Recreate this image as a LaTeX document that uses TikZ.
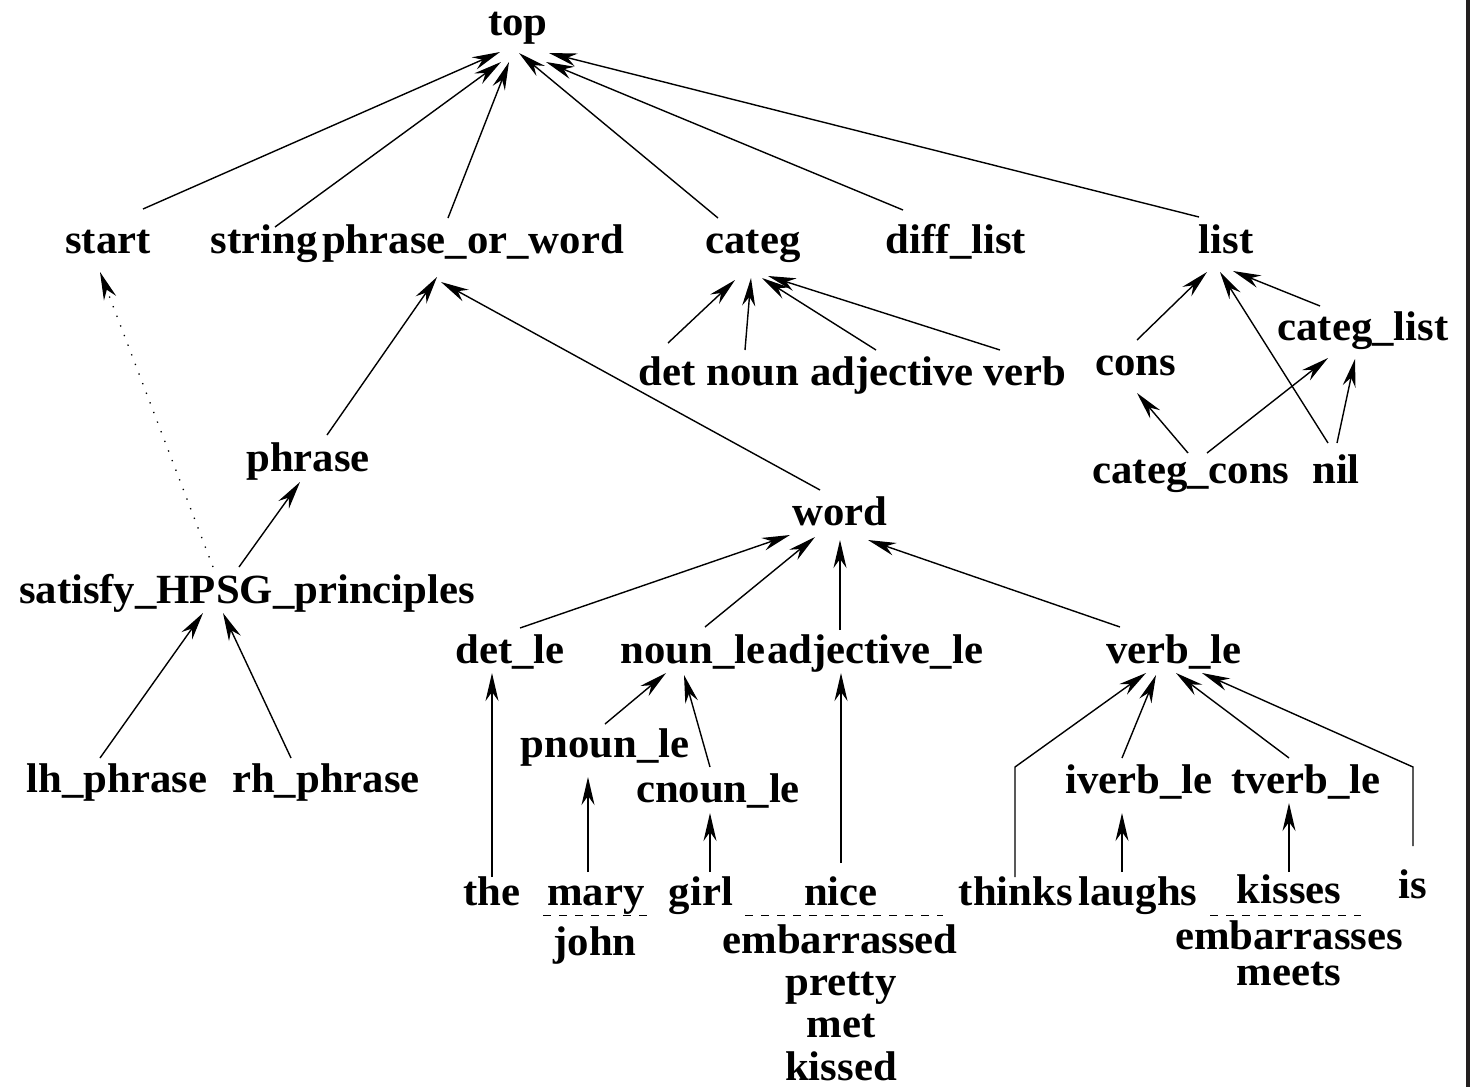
\documentclass[tikz,border=0pt]{standalone}
\usepackage{fontspec}
\newfontfamily\lblfont{Liberation Serif}[FakeStretch=1.03]
\usetikzlibrary{arrows.meta}
\begin{document}
\begin{tikzpicture}[x=1pt,y=-1pt,
  lbl/.style={anchor=base,inner sep=0pt,font=\lblfont\bfseries\fontsize{41.5}{44}\selectfont},
  arr/.style={-{Stealth[length=28pt,width=13pt,inset=9pt]},line width=1.4pt},
  dotarr/.style={-{Stealth[length=28pt,width=13pt,inset=9pt]},line width=1.3pt,dash pattern=on 1.3pt off 9pt},
  alt/.style={dash pattern=on 8pt off 8pt,line width=1pt}]
\useasboundingbox (0,0) rectangle (1475,1087);
\fill[white] (0,0) rectangle (1475,1087);
\draw[line width=4pt,color={rgb,255:red,35;green,31;blue,32}] (1468,0) -- (1468,1087);

% type nodes
\node[lbl] (top) at (518,35) {top};
\node[lbl] (start) at (108,253) {start};
\node[lbl] (string) at (264,253) {string};
\node[lbl] (pow) at (473,253) {phrase\_or\_word};
\node[lbl] (categ) at (753,253) {categ};
\node[lbl] (difflist) at (956,253) {diff\_list};
\node[lbl] (list) at (1226,253) {list};
\node[lbl] (det) at (667,385) {det};
\node[lbl] (noun) at (753,385) {noun};
\node[lbl] (adjective) at (892,385) {adjective};
\node[lbl] (verb) at (1025,385) {verb};
\node[lbl] (cons) at (1136,375) {cons};
\node[lbl] (categlist) at (1363,340) {categ\_list};
\node[lbl] (categcons) at (1191,483) {categ\_cons};
\node[lbl] (nil) at (1336,483) {nil};
\node[lbl] (phrase) at (308,471) {phrase};
\node[lbl] (word) at (840,525) {word};
\node[lbl] (satisfy) at (247,603) {satisfy\_HPSG\_principles};
\node[lbl] (detle) at (510,663) {det\_le};
\node[lbl] (nounle) at (693,663) {noun\_le};
\node[lbl] (adjle) at (875,663) {adjective\_le};
\node[lbl] (verble) at (1174,663) {verb\_le};
\node[lbl] (lh) at (117,792) {lh\_phrase};
\node[lbl] (rh) at (326,792) {rh\_phrase};
\node[lbl] (pnoun) at (605,757) {pnoun\_le};
\node[lbl] (cnoun) at (718,802) {cnoun\_le};
\node[lbl] (iverb) at (1139,793) {iverb\_le};
\node[lbl] (tverb) at (1306,793) {tverb\_le};

% words
\node[lbl] (the) at (492,905) {the};
\node[lbl] (mary) at (596,905) {mary};
\node[lbl] (john) at (595,955) {john};
\node[lbl] (girl) at (701,905) {girl};
\node[lbl] (nice) at (841,905) {nice};
\node[lbl] (embarrassed) at (840,953) {embarrassed};
\node[lbl] (pretty) at (841,995) {pretty};
\node[lbl] (met) at (841,1037) {met};
\node[lbl] (kissed) at (841,1080) {kissed};
\node[lbl] (thinks) at (1016,905) {thinks};
\node[lbl] (laughs) at (1138,905) {laughs};
\node[lbl] (kisses) at (1289,903) {kisses};
\node[lbl] (embarrasses) at (1289,949) {embarrasses};
\node[lbl] (meets) at (1289,985) {meets};
\node[lbl] (is) at (1413,898) {is};

% separators between alternative words
\draw[alt] ([shift={(-53,10)}]mary.base) -- ([shift={(52,10)}]mary.base);
\draw[alt] ([shift={(-96,10)}]nice.base) -- ([shift={(102,10)}]nice.base);
\draw[alt] ([shift={(-79,12)}]kisses.base) -- ([shift={(72,12)}]kisses.base);

% subtype links
\draw[arr] ([shift={(35,-44)}]start.base) -- ([shift={(-18,17)}]top.base);
\draw[arr] ([shift={(11,-26)}]string.base) -- ([shift={(-17,27)}]top.base);
\draw[arr] ([shift={(-25,-35)}]pow.base) -- ([shift={(-9,27)}]top.base);
\draw[arr] ([shift={(-35,-35)}]categ.base) -- ([shift={(1,18)}]top.base);
\draw[arr] ([shift={(-53,-43)}]difflist.base) -- ([shift={(28,27)}]top.base);
\draw[arr] ([shift={(-27,-36)}]list.base) -- ([shift={(31,18)}]top.base);

\draw[arr] ([shift={(1,-42)}]det.base) -- ([shift={(-18,27)}]categ.base);
\draw[arr] ([shift={(-8,-35)}]noun.base) -- ([shift={(-2,25)}]categ.base);
\draw[arr] ([shift={(-16,-35)}]adjective.base) -- ([shift={(9,25)}]categ.base);
\draw[arr] ([shift={(-25,-35)}]verb.base) -- ([shift={(15,23)}]categ.base);

\draw[arr] ([shift={(19,-36)}]phrase.base) -- ([shift={(-36,24)}]pow.base);
\draw[arr] ([shift={(-20,-35)}]word.base) -- ([shift={(-32,29)}]pow.base);
\draw[arr] ([shift={(-8,-36)}]satisfy.base) -- ([shift={(-8,11)}]phrase.base);
\draw[dotarr] ([shift={(-34,-36)}]satisfy.base) -- ([shift={(-8,19)}]start.base);
\draw[arr] ([shift={(-17,-34)}]lh.base) -- ([shift={(-44,10)}]satisfy.base);
\draw[arr] ([shift={(-35,-34)}]rh.base) -- ([shift={(-24,10)}]satisfy.base);

\draw[arr] ([shift={(10,-35)}]detle.base) -- ([shift={(-50,10)}]word.base);
\draw[arr] ([shift={(12,-36)}]nounle.base) -- ([shift={(-25,12)}]word.base);
\draw[arr] ([shift={(-35,-33)}]adjle.base) -- ([shift={(0,15)}]word.base);
\draw[arr] ([shift={(-54,-36)}]verble.base) -- ([shift={(28,15)}]word.base);

\draw[arr] ([shift={(0,-28)}]the.base) -- ([shift={(-18,10)}]detle.base);
\draw[arr] ([shift={(0,-33)}]pnoun.base) -- ([shift={(-27,10)}]nounle.base);
\draw[arr] ([shift={(-8,-35)}]cnoun.base) -- ([shift={(-9,12)}]nounle.base);
\draw[arr] ([shift={(-8,-33)}]mary.base) -- ([shift={(-17,20)}]pnoun.base);
\draw[arr] ([shift={(9,-33)}]girl.base) -- ([shift={(-8,11)}]cnoun.base);
\draw[arr] ([shift={(0,-42)}]nice.base) -- ([shift={(-34,10)}]adjle.base);

\draw[arr] ([shift={(-1,-28)}]thinks.base) -- ([shift={(-1,-138)}]thinks.base) -- ([shift={(-28,10)}]verble.base);
\draw[arr] ([shift={(-17,-35)}]iverb.base) -- ([shift={(-18,12)}]verble.base);
\draw[arr] ([shift={(-17,-35)}]tverb.base) -- ([shift={(2,10)}]verble.base);
\draw[arr] ([shift={(0,-52)}]is.base) -- ([shift={(0,-131)}]is.base) -- ([shift={(28,10)}]verble.base);
\draw[arr] ([shift={(-16,-33)}]laughs.base) -- ([shift={(-17,20)}]iverb.base);
\draw[arr] ([shift={(0,-31)}]kisses.base) -- ([shift={(-17,10)}]tverb.base);

\draw[arr] ([shift={(1,-35)}]cons.base) -- ([shift={(-19,19)}]list.base);
\draw[arr] ([shift={(-8,-40)}]nil.base) -- ([shift={(-6,19)}]list.base);
\draw[arr] ([shift={(-43,-34)}]categlist.base) -- ([shift={(7,18)}]list.base);
\draw[arr] ([shift={(-3,-30)}]categcons.base) -- ([shift={(1,18)}]cons.base);
\draw[arr] ([shift={(16,-30)}]categcons.base) -- ([shift={(-35,18)}]categlist.base);
\draw[arr] ([shift={(1,-40)}]nil.base) -- ([shift={(-8,19)}]categlist.base);
\end{tikzpicture}
\end{document}
